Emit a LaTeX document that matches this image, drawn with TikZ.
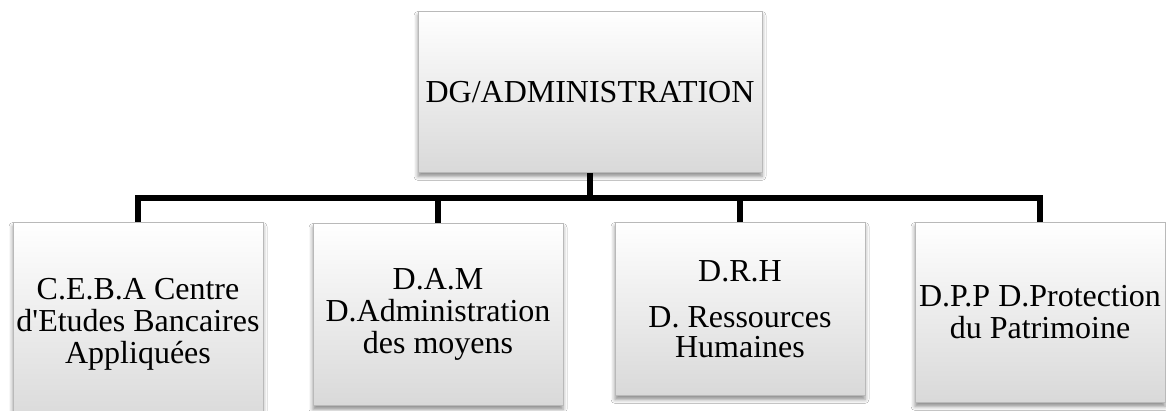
\documentclass[tikz,border=0pt]{standalone}
\usepackage{fontspec}
\setmainfont{Liberation Serif}[Ligatures=TeXOff]
\usetikzlibrary{shadows.blur}
\tikzset{
  unit/.style={draw=gray!55, line width=0.8pt, top color=white, bottom color=gray!30,
    blur shadow={shadow xshift=0pt, shadow yshift=-4pt, shadow blur radius=4pt, shadow opacity=45},
    align=center, inner sep=0pt, anchor=north, font=\fontsize{32}{32}\selectfont},
  child/.style={unit, minimum width=250pt},
  link/.style={line width=5.5pt, black}
}
\begin{document}
\begin{tikzpicture}[x=1pt, y=-1pt]
  \useasboundingbox[fill=white] (0,0) rectangle (1166,411);

  % head of the chart
  \node[unit, minimum width=344pt, minimum height=161pt]
    (dg) at (590,11) {DG/ADMINISTRATION};

  % departments
  \node[child, minimum height=203pt]
    (ceba) at (138,222) {C.E.B.A Centre\\d'Etudes Bancaires\\Appliquées};
  \node[child, minimum height=182pt]
    (dam) at (438,223) {D.A.M\\D.Administration\\des moyens};
  \node[child, minimum height=173pt, font=\fontsize{32}{30}\selectfont]
    (drh) at (740,222) {D.R.H\\[16pt]D. Ressources\\Humaines};
  \node[child, minimum height=180pt]
    (dpp) at (1040,222) {D.P.P D.Protection\\du Patrimoine};

  % connectors
  \draw[link] (dg.south) -- ++(0,25) coordinate (bar);
  \draw[link] (ceba.north) |- (bar) -| (dpp.north);
  \draw[link] (dam.north) -- (dam.north |- bar);
  \draw[link] (drh.north) -- (drh.north |- bar);
\end{tikzpicture}
\end{document}
